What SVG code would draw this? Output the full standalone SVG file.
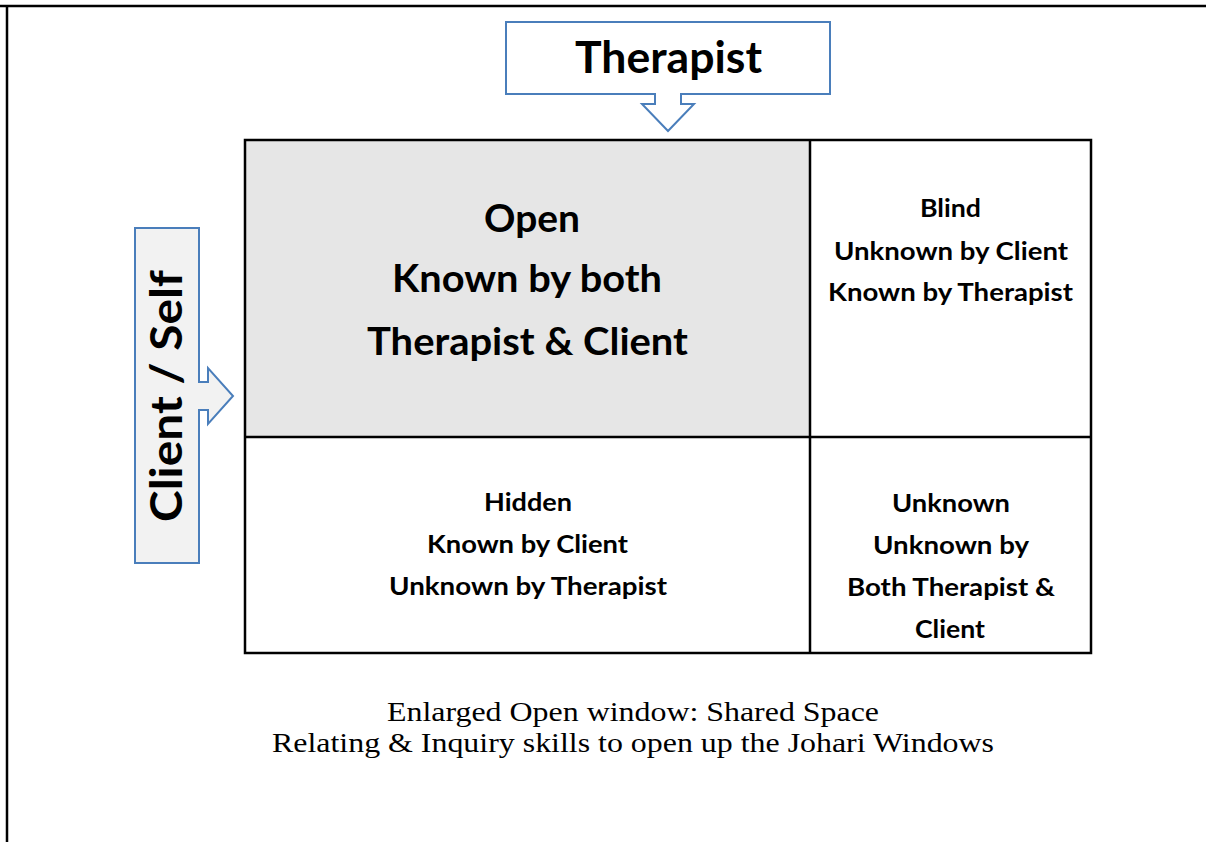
<svg xmlns="http://www.w3.org/2000/svg" width="1206" height="842" viewBox="0 0 1206 842">
<style>
.frame{stroke:#000;stroke-width:2.5;fill:none}
.callout{stroke:#4a7ebb;stroke-width:2;}
.grid{stroke:#000;stroke-width:2.5;fill:none}
.b{font-family:Lato,"Open Sans","Liberation Sans",sans-serif;font-weight:700;fill:#000;text-anchor:middle}
.cap{font-family:"Liberation Serif","Times New Roman",serif;font-size:28px;fill:#000;text-anchor:middle}
</style>
<rect x="0" y="0" width="1206" height="842" fill="#fff"/>
<g id="frame">
<line class="frame" x1="0" y1="6" x2="1206" y2="6"/>
<line class="frame" x1="7" y1="6" x2="7" y2="842"/>
</g>
<g id="therapist">
<path class="callout" fill="#fff" d="M506,22 H830 V94 H681 V104 H694 L668,131 L642,104 H655 V94 H506 Z"/>
<text class="b" x="668.5" y="73" font-size="44" textLength="187" lengthAdjust="spacingAndGlyphs">Therapist</text>
</g>
<g id="client-self">
<path class="callout" fill="#f2f2f2" d="M135,228 H199 V382 H208 V368 L233,396 L208,424 V410 H199 V563 H135 Z"/>
<text class="b" transform="translate(182,396) rotate(-90)" x="0" y="0" font-size="43" textLength="252" lengthAdjust="spacingAndGlyphs">Client / Self</text>
</g>
<g id="open">
<rect x="245" y="140" width="565" height="297" fill="#e6e6e6"/>
<text class="b" x="532" y="232" font-size="38" textLength="96" lengthAdjust="spacingAndGlyphs">Open</text>
<text class="b" x="527" y="292" font-size="38" textLength="270" lengthAdjust="spacingAndGlyphs">Known by both</text>
<text class="b" x="527.5" y="355" font-size="38" textLength="321" lengthAdjust="spacingAndGlyphs">Therapist &amp; Client</text>
</g>
<g id="blind">
<text class="b" x="950.5" y="217" font-size="25" textLength="61" lengthAdjust="spacingAndGlyphs">Blind</text>
<text class="b" x="951" y="260" font-size="25" textLength="234" lengthAdjust="spacingAndGlyphs">Unknown by Client</text>
<text class="b" x="950.5" y="301" font-size="25" textLength="245" lengthAdjust="spacingAndGlyphs">Known by Therapist</text>
</g>
<g id="hidden">
<text class="b" x="528" y="511" font-size="25" textLength="88" lengthAdjust="spacingAndGlyphs">Hidden</text>
<text class="b" x="527.5" y="553" font-size="25" textLength="201" lengthAdjust="spacingAndGlyphs">Known by Client</text>
<text class="b" x="528" y="595" font-size="25" textLength="278" lengthAdjust="spacingAndGlyphs">Unknown by Therapist</text>
</g>
<g id="unknown">
<text class="b" x="951" y="512" font-size="25" textLength="118" lengthAdjust="spacingAndGlyphs">Unknown</text>
<text class="b" x="951" y="554" font-size="25" textLength="156" lengthAdjust="spacingAndGlyphs">Unknown by</text>
<text class="b" x="951" y="596" font-size="25" textLength="208" lengthAdjust="spacingAndGlyphs">Both Therapist &amp;</text>
<text class="b" x="950" y="638" font-size="25" textLength="70" lengthAdjust="spacingAndGlyphs">Client</text>
</g>
<g id="grid">
<rect class="grid" x="245" y="140" width="846" height="513"/>
<line class="grid" x1="810" y1="140" x2="810" y2="653"/>
<line class="grid" x1="245" y1="437" x2="1091" y2="437"/>
</g>
<g id="caption">
<text class="cap" x="633" y="721" textLength="492" lengthAdjust="spacingAndGlyphs">Enlarged Open window: Shared Space</text>
<text class="cap" x="633" y="752" textLength="722" lengthAdjust="spacingAndGlyphs">Relating &amp; Inquiry skills to open up the Johari Windows</text>
</g>
</svg>
